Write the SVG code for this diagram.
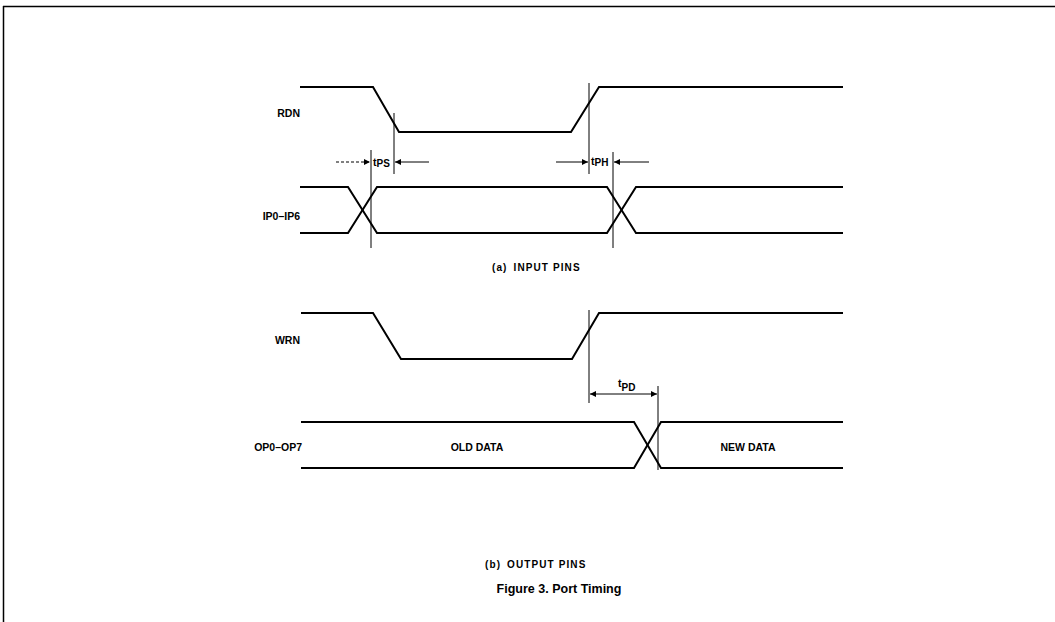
<svg xmlns="http://www.w3.org/2000/svg" width="1055" height="622" viewBox="0 0 1055 622">
<style>
.sig{fill:none;stroke:#000;stroke-width:2;stroke-linejoin:miter}
.ref{fill:none;stroke:#000;stroke-width:1}
.lbl{font-family:"Liberation Sans",Arial,sans-serif;font-size:10.5px;font-weight:bold;fill:#000}
.cap{font-family:"Liberation Sans",Arial,sans-serif;font-size:10px;font-weight:bold;fill:#000;letter-spacing:1.1px}
.fig{font-family:"Liberation Sans",Arial,sans-serif;font-size:12.5px;font-weight:bold;fill:#000}
</style>
<defs>
<marker id="ah" viewBox="0 0 10 10" refX="10" refY="5" markerWidth="9" markerHeight="6" markerUnits="userSpaceOnUse" orient="auto">
<path d="M0,0 L10,5 L0,10 z" fill="#000"/>
</marker>
</defs>
<rect width="1055" height="622" fill="#fff"/>
<g id="frame">
<line x1="3" y1="6.5" x2="1055" y2="6.5" stroke="#000" stroke-width="1.5"/>
<line x1="3.5" y1="6" x2="3.5" y2="622" stroke="#000" stroke-width="1.5"/>
</g>
<g id="rdn">
<text class="lbl" x="300" y="117" text-anchor="end">RDN</text>
<polyline class="sig" points="300,87 373,87 399,132 571,132 599,87 843,87"/>
</g>
<g id="ip">
<text class="lbl" x="300" y="220" text-anchor="end">IP0–IP6</text>
<polyline class="sig" points="300,187 348,187 377,233 607,233 636,187 843,187"/>
<polyline class="sig" points="300,233 348,233 377,187 607,187 636,233 843,233"/>
</g>
<g id="wrn">
<text class="lbl" x="300" y="344" text-anchor="end">WRN</text>
<polyline class="sig" points="301,313 373,313 401,359 572,359 599,313 843,313"/>
</g>
<g id="op">
<text class="lbl" x="302" y="451" text-anchor="end">OP0–OP7</text>
<polyline class="sig" points="301,422 634,422 661,468 843,468"/>
<polyline class="sig" points="301,468 634,468 661,422 843,422"/>
<text class="lbl" x="477" y="451" text-anchor="middle">OLD DATA</text>
<text class="lbl" x="748" y="451" text-anchor="middle">NEW DATA</text>
</g>
<g id="connectors">
<line class="ref" x1="394" y1="113" x2="394" y2="174"/>
<line class="ref" x1="371" y1="150" x2="371" y2="248"/>
<line class="ref" x1="336" y1="162" x2="370" y2="162" stroke-dasharray="3,2" marker-end="url(#ah)"/>
<line class="ref" x1="429" y1="162" x2="395" y2="162" marker-end="url(#ah)"/>
<line class="ref" x1="589" y1="83" x2="589" y2="174"/>
<line class="ref" x1="613" y1="152" x2="613" y2="248"/>
<line class="ref" x1="556" y1="162" x2="588" y2="162" marker-end="url(#ah)"/>
<line class="ref" x1="649" y1="162" x2="614" y2="162" marker-end="url(#ah)"/>
<line class="ref" x1="589" y1="310" x2="589" y2="403"/>
<line class="ref" x1="658" y1="386" x2="658" y2="470"/>
<line class="ref" x1="620" y1="394" x2="590" y2="394" marker-end="url(#ah)"/>
<line class="ref" x1="620" y1="394" x2="657" y2="394" marker-end="url(#ah)"/>
</g>
<g id="labels">
<text class="lbl" x="373" y="166">t<tspan font-size="10" dy="1">PS</tspan></text>
<text class="lbl" x="591" y="165">t<tspan font-size="10" dy="1">PH</tspan></text>
<text class="lbl" x="618" y="387" font-size="8">t<tspan font-size="10" dy="4">PD</tspan></text>
<text class="cap" x="492" y="271">(a)<tspan dx="6">INPUT PINS</tspan></text>
<text class="cap" x="485" y="568">(b)<tspan dx="6">OUTPUT PINS</tspan></text>
<text class="fig" x="559" y="593" text-anchor="middle">Figure 3. Port Timing</text>
</g>
</svg>
